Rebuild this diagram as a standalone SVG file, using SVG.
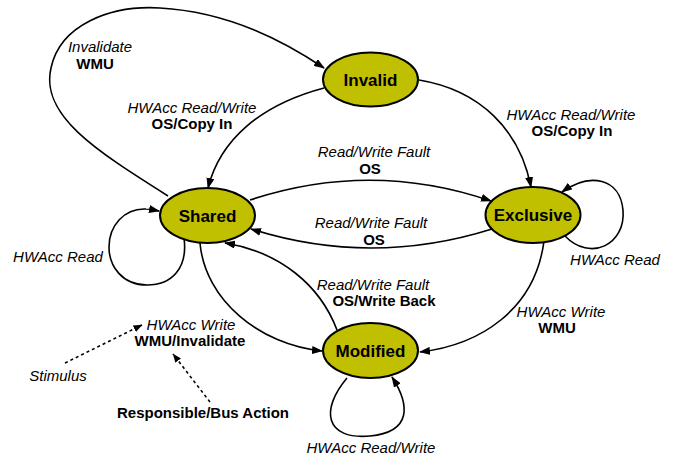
<svg xmlns="http://www.w3.org/2000/svg" width="678" height="461" viewBox="0 0 678 461">
<defs>
<marker id="ah" markerWidth="11" markerHeight="8" refX="10" refY="4" orient="auto" markerUnits="userSpaceOnUse"><path d="M0,0 L11,4 L0,8 Z" fill="#000"/></marker>
<marker id="ahs" markerWidth="9" markerHeight="7" refX="8.5" refY="3.5" orient="auto" markerUnits="userSpaceOnUse"><path d="M0,0 L9,3.5 L0,7 Z" fill="#000"/></marker>
<style>
.node ellipse{fill:#C0BF00;stroke:#000;stroke-width:2}
.node text{font-family:"Liberation Sans",Arial,sans-serif;font-weight:bold;font-size:17px;text-anchor:middle;fill:#000}
.edge{fill:none;stroke:#000;stroke-width:1.6;marker-end:url(#ah)}
.dot{fill:none;stroke:#000;stroke-width:1.6;stroke-dasharray:3,3;marker-end:url(#ahs)}
.i{font-family:"Liberation Sans",Arial,sans-serif;font-style:italic;font-size:15px;text-anchor:middle;fill:#000}
.b{font-family:"Liberation Sans",Arial,sans-serif;font-weight:bold;font-size:15px;text-anchor:middle;fill:#000}
</style>
</defs>
<rect width="678" height="461" fill="#fff"/>
<g id="connectors">
<path class="edge" d="M168,196 C 95,150 40,115 51,68 C 60,25 110,5 160,8 C 230,12 285,42 324,68"/>
<path class="edge" d="M324,88 C 260,105 220,140 208,188"/>
<path class="edge" d="M419,80 C 480,90 520,130 531,187"/>
<path class="edge" d="M250,200 Q 371,160 491,201"/>
<path class="edge" d="M492,229 Q 371,267 251,229"/>
<path class="edge" d="M337,330 C 320,285 280,252 225,243"/>
<path class="edge" d="M200,243 C 205,300 260,345 322,351"/>
<path class="edge" d="M544,241 C 535,310 480,345 420,352"/>
<path class="edge" d="M184,238 C 188,268 172,285 147,285 C 122,285 109,266 109,247 C 109,226 124,208 146,209 C 150,209 154,210 159,211"/>
<path class="edge" d="M565,236 C 590,262 626,245 623,210 C 620,178 590,172 562,192"/>
<path class="edge" d="M347,378 C 320,410 325,440 370,436 C 412,432 410,405 392,377"/>
<path class="dot" d="M65,363 L142,325"/>
<path class="dot" d="M210,402 L173,354"/>
</g>
<g id="invalid" class="node"><ellipse cx="370.5" cy="79.5" rx="47.5" ry="27"/><text x="370.5" y="85.5">Invalid</text></g>
<g id="shared" class="node"><ellipse cx="207.5" cy="215.5" rx="47.5" ry="27.5"/><text x="207.5" y="221.5">Shared</text></g>
<g id="exclusive" class="node"><ellipse cx="533" cy="215" rx="47.5" ry="28"/><text x="533" y="221">Exclusive</text></g>
<g id="modified" class="node"><ellipse cx="370.5" cy="350.5" rx="47.5" ry="27.5"/><text x="370.5" y="356.5">Modified</text></g>
<g id="labels">
<text class="i" x="100" y="52">Invalidate</text>
<text class="b" x="95" y="69">WMU</text>
<text class="i" x="192" y="113">HWAcc Read/Write</text>
<text class="b" x="192" y="129">OS/Copy In</text>
<text class="i" x="571" y="120">HWAcc Read/Write</text>
<text class="b" x="572" y="136">OS/Copy In</text>
<text class="i" x="374" y="157">Read/Write Fault</text>
<text class="b" x="370" y="174">OS</text>
<text class="i" x="371" y="228">Read/Write Fault</text>
<text class="b" x="374" y="245">OS</text>
<text class="i" x="373" y="290">Read/Write Fault</text>
<text class="b" x="384" y="306">OS/Write Back</text>
<text class="i" x="561" y="317">HWAcc Write</text>
<text class="b" x="557" y="333">WMU</text>
<text class="i" x="615" y="265">HWAcc Read</text>
<text class="i" x="58" y="262">HWAcc Read</text>
<text class="i" x="191" y="330">HWAcc Write</text>
<text class="b" x="190" y="346">WMU/Invalidate</text>
<text class="i" x="58" y="381">Stimulus</text>
<text class="b" x="203" y="418">Responsible/Bus Action</text>
<text class="i" x="371" y="453">HWAcc Read/Write</text>
</g>
</svg>
